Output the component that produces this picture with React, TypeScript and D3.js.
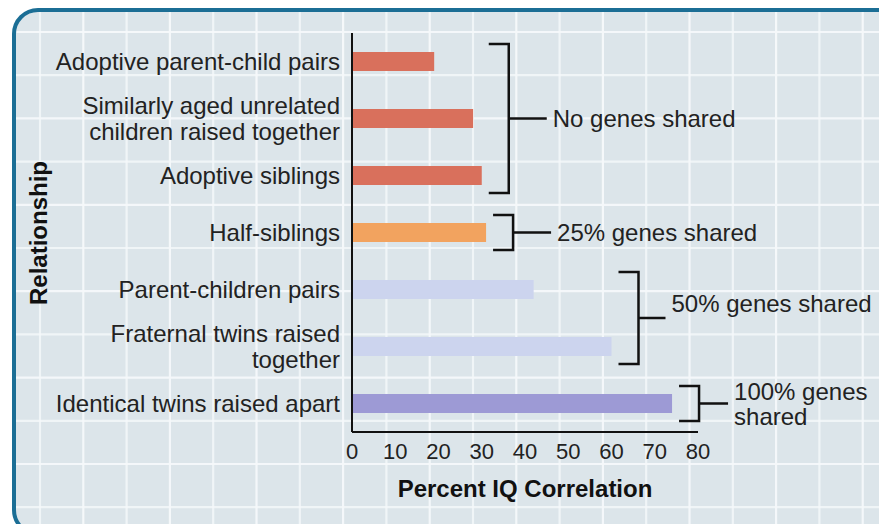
import * as d3 from "d3";

const categories = [
  "Adoptive parent-child pairs",
  "Similarly aged unrelated\nchildren raised together",
  "Adoptive siblings",
  "Half-siblings",
  "Parent-children pairs",
  "Fraternal twins raised\ntogether",
  "Identical twins raised apart",
];
const values = [19, 28, 30, 31, 42, 60, 74];
const groupOf = [0, 0, 0, 1, 2, 2, 3];
const groupLabels = ["No genes shared", "25% genes shared", "50% genes shared", "100% genes\nshared"];
const groupColors = ["#d9705c", "#f2a35f", "#ccd4ee", "#9d9ad5"];
const xTicks = [0, 10, 20, 30, 40, 50, 60, 70, 80];

const W = 879;
const H = 524;
const FONT = "'Liberation Sans', Arial, Helvetica, sans-serif";

export default function App() {
  const x = d3.scaleLinear().domain([0, 80]).range([352, 698]);
  const y = d3
    .scaleBand<number>()
    .domain(d3.range(categories.length))
    .range([33, 432])
    .paddingInner(0.667)
    .paddingOuter(0.3335);
  const bw = y.bandwidth();
  const cy = (i: number) => (y(i) ?? 0) + bw / 2;

  // background grid
  const gx = d3.range(40, W, 43.3);
  const gy = d3.range(32, H, 43.2);

  // bracket geometry per group
  const tickLen = [38, 38, 27, 29];
  const labelShift = [0, 0, -15, 0];
  const brackets = groupLabels.map((label, g) => {
    const idx = d3.range(values.length).filter((i) => groupOf[i] === g);
    const bx = x(d3.max(idx, (i) => values[i]) as number) + 27;
    return {
      label,
      bx,
      top: cy(idx[0]) - 17.5,
      bottom: cy(idx[idx.length - 1]) + 17.5,
      mid: (cy(idx[0]) + cy(idx[idx.length - 1])) / 2,
      len: tickLen[g],
      shift: labelShift[g],
    };
  });

  return (
    <svg
      width={W}
      height={H}
      style={{ position: "absolute", left: 0, top: 0, fontFamily: FONT }}
    >
      <defs>
        <clipPath id="panel">
          <rect x={14} y={10} width={W + 20} height={H} rx={24} />
        </clipPath>
      </defs>
      <rect x={0} y={0} width={W} height={H} fill="#ffffff" />
      <g clipPath="url(#panel)">
        <rect x={0} y={0} width={W} height={H} fill="#dce5ea" />
        {gx.map((v, i) => (
          <line key={"gx" + i} x1={v} x2={v} y1={0} y2={H} stroke="#f6f9fb" strokeWidth={2.2} opacity={i % 2 ? 0.95 : 0.8} />
        ))}
        {gy.map((v, i) => (
          <line key={"gy" + i} x1={0} x2={W} y1={v} y2={v} stroke="#f6f9fb" strokeWidth={2.2} opacity={i % 2 ? 0.8 : 0.95} />
        ))}
      </g>
      <rect x={14} y={10} width={W + 20} height={H} rx={24} fill="none" stroke="#1b6e95" strokeWidth={4} />

      {/* bars */}
      {values.map((v, i) => (
        <rect key={"b" + i} x={x(0)} y={y(i)} width={x(v) - x(0)} height={bw} fill={groupColors[groupOf[i]]} />
      ))}

      {/* axes */}
      <line x1={x(0)} x2={x(0)} y1={33} y2={432} stroke="#111" strokeWidth={2} />
      <line x1={x(0)} x2={x(80)} y1={432} y2={432} stroke="#111" strokeWidth={2} />
      {xTicks.map((t) => (
        <text key={"t" + t} x={x(t)} y={459} textAnchor="middle" fontSize={22} fill="#222">
          {t}
        </text>
      ))}

      {/* category labels */}
      {categories.map((c, i) => {
        const lines = c.split("\n");
        return (
          <text key={"c" + i} x={340} textAnchor="end" fontSize={24} fill="#222">
            {lines.map((ln, j) => (
              <tspan key={j} x={340} y={cy(i) + (j - (lines.length - 1) / 2) * 26} dy="0.36em">
                {ln}
              </tspan>
            ))}
          </text>
        );
      })}

      {/* brackets */}
      {brackets.map((b, g) => {
        const lines = b.label.split("\n");
        return (
          <g key={"br" + g}>
            <path
              d={`M${b.bx - 20},${b.top}H${b.bx}V${b.bottom}H${b.bx - 20}M${b.bx},${b.mid}H${b.bx + b.len}`}
              fill="none"
              stroke="#111"
              strokeWidth={2.5}
            />
            <text x={b.bx + b.len + 6} fontSize={24} fill="#222">
              {lines.map((ln, j) => (
                <tspan key={j} x={b.bx + b.len + 6} y={b.mid + b.shift + (j - (lines.length - 1) / 2) * 25} dy="0.36em">
                  {ln}
                </tspan>
              ))}
            </text>
          </g>
        );
      })}

      {/* axis titles */}
      <text x={525} y={497} textAnchor="middle" fontSize={24} fontWeight="bold" fill="#111">
        Percent IQ Correlation
      </text>
      <text
        transform={`translate(47,233) rotate(-90)`}
        textAnchor="middle"
        fontSize={24}
        fontWeight="bold"
        fill="#111"
      >
        Relationship
      </text>
    </svg>
  );
}
